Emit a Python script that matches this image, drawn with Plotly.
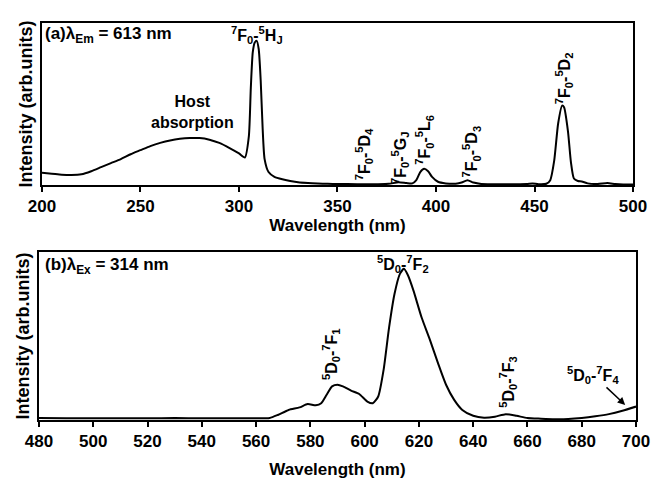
import plotly.graph_objects as go

# ---- Panel (a): excitation spectrum (lambda_Em = 613 nm)
exc_nm = [200, 205, 210, 215, 220, 225, 230, 235, 240, 245, 250, 255, 260, 265, 270, 275, 280,
          285, 290, 295, 300, 303, 305, 306, 307, 308, 309, 310, 311, 312, 313, 315, 318, 322,
          326, 330, 335, 340, 345, 350, 360, 370, 376, 381, 385, 388, 390, 392, 394, 396, 398,
          401, 405, 410, 413, 416, 419, 423, 430, 440, 446, 449, 452, 456, 458, 460, 462, 464,
          465, 467, 468.5, 470, 472, 474, 477, 482, 487, 491, 495, 500]
exc_int = [0.075, 0.07, 0.064, 0.062, 0.066, 0.085, 0.11, 0.135, 0.16, 0.19, 0.215, 0.24, 0.26,
           0.275, 0.285, 0.29, 0.29, 0.28, 0.26, 0.23, 0.195, 0.17, 0.30, 0.60, 0.82, 0.88, 0.89,
           0.84, 0.65, 0.35, 0.16, 0.08, 0.05, 0.035, 0.025, 0.017, 0.012, 0.009, 0.007, 0.006,
           0.005, 0.005, 0.007, 0.017, 0.012, 0.01, 0.03, 0.08, 0.10, 0.085, 0.05, 0.02, 0.01,
           0.008, 0.015, 0.03, 0.015, 0.006, 0.005, 0.005, 0.006, 0.01, 0.005, 0.008, 0.03, 0.15,
           0.38, 0.49, 0.48, 0.33, 0.14, 0.04, 0.025, 0.022, 0.01, 0.006, 0.012, 0.006, 0.003, 0.003]

# ---- Panel (b): emission spectrum (lambda_Ex = 314 nm)
em_nm = [480, 490, 500, 510, 520, 530, 540, 550, 560, 565, 568, 572, 576, 579, 582, 584, 586,
         588, 590, 592, 595, 598, 601, 603, 605, 607, 609, 611, 613, 614.5, 616, 618, 621, 624,
         627, 630, 633, 636, 640, 644, 648, 652, 656, 660, 665, 670, 675, 680, 685, 690, 695, 700]
em_int = [0.012, 0.01, 0.01, 0.011, 0.01, 0.012, 0.01, 0.01, 0.01, 0.012, 0.03, 0.06, 0.075,
          0.095, 0.088, 0.10, 0.15, 0.20, 0.21, 0.20, 0.175, 0.155, 0.11, 0.10, 0.14, 0.30, 0.55,
          0.75, 0.87, 0.90, 0.86, 0.77, 0.61, 0.48, 0.34, 0.21, 0.12, 0.06, 0.025, 0.014, 0.02,
          0.035, 0.025, 0.012, 0.008, 0.005, 0.006, 0.012, 0.022, 0.035, 0.055, 0.08]

exc_ticks = [200, 250, 300, 350, 400, 450, 500]
em_ticks = [480, 500, 520, 540, 560, 580, 600, 620, 640, 660, 680, 700]

FONT = "Liberation Sans, Arial, sans-serif"

fig = go.Figure()
fig.add_trace(go.Scatter(x=exc_nm, y=exc_int, mode="lines", line=dict(color="black", width=2, shape="spline", smoothing=0.6),
                         xaxis="x", yaxis="y", showlegend=False))
fig.add_trace(go.Scatter(x=em_nm, y=em_int, mode="lines", line=dict(color="black", width=2, shape="spline", smoothing=0.6),
                         xaxis="x2", yaxis="y2", showlegend=False))

axis_common = dict(showline=True, mirror=True, linecolor="black", linewidth=2, showgrid=False,
                   zeroline=False, automargin=False)
xt = dict(ticks="outside", ticklen=5, tickwidth=2, tickcolor="black",
          tickfont=dict(family=FONT, size=17, color="black"))
ytitle = dict(text="<b>Intensity (arb.units)</b>", font=dict(family=FONT, size=18, color="black"), standoff=3)

# page body has an 8px margin, so the figure is sized 655x472 to fill the 663x480 window
fig.update_layout(
    width=655, height=472,
    margin=dict(l=0, r=0, t=0, b=0),
    paper_bgcolor="white", plot_bgcolor="white",
    font=dict(family=FONT, color="black"),
    xaxis=dict(domain=[0.0519, 0.9542], anchor="y", range=[200, 500], tickvals=exc_ticks,
               ticktext=[f"<b>{t}</b>" for t in exc_ticks],
               title=dict(text="<b>Wavelength (nm)</b>", font=dict(family=FONT, size=17, color="black"), standoff=0),
               **axis_common, **xt),
    yaxis=dict(domain=[0.625, 0.968], anchor="x", range=[0, 1], showticklabels=False, ticks="",
               title=ytitle, **axis_common),
    xaxis2=dict(domain=[0.0473, 0.9588], anchor="y2", range=[480, 700], tickvals=em_ticks,
                ticktext=[f"<b>{t}</b>" for t in em_ticks],
                title=dict(text="<b>Wavelength (nm)</b>", font=dict(family=FONT, size=17, color="black"), standoff=13),
                **axis_common, **xt),
    yaxis2=dict(domain=[0.1271, 0.483], anchor="x2", range=[0, 1], showticklabels=False, ticks="",
                title=ytitle, **axis_common),
)

def ann(x, y, text, xr="x", yr="y", size=15, angle=0, xanchor="center", **kw):
    fig.add_annotation(x=x, y=y, xref=xr, yref=yr, text=text, showarrow=kw.pop("showarrow", False),
                       textangle=angle, xanchor=xanchor, yanchor="middle",
                       font=dict(family=FONT, size=size, color="black"), **kw)

# Panel (a) labels
ann(200.5, 0.926, "<b>(a)λ<sub>Em</sub> = 613 nm</b>", xanchor="left", size=17)
ann(309, 0.926, "<b><sup>7</sup>F<sub>0</sub>-<sup>5</sup>H<sub>J</sub></b>", size=16)
ann(276.6, 0.45, "<b>Host<br>absorption</b>", size=16)
ann(363.5, 0.19, "<b><sup>7</sup>F<sub>0</sub>-<sup>5</sup>D<sub>4</sub></b>", angle=-90, size=16)
ann(382, 0.17, "<b><sup>7</sup>F<sub>0</sub>-<sup>5</sup>G<sub>J</sub></b>", angle=-90, size=16)
ann(394, 0.28, "<b><sup>7</sup>F<sub>0</sub>-<sup>5</sup>L<sub>6</sub></b>", angle=-90, size=16)
ann(418, 0.21, "<b><sup>7</sup>F<sub>0</sub>-<sup>5</sup>D<sub>3</sub></b>", angle=-90, size=16)
ann(465, 0.66, "<b><sup>7</sup>F<sub>0</sub>-<sup>5</sup>D<sub>2</sub></b>", angle=-90, size=16)

# Panel (b) labels
ann(481.5, 0.917, "<b>(b)λ<sub>Ex</sub> = 314 nm</b>", xr="x2", yr="y2", xanchor="left", size=17)
ann(614, 0.93, "<b><sup>5</sup>D<sub>0</sub>-<sup>7</sup>F<sub>2</sub></b>", xr="x2", yr="y2", size=16)
ann(587.8, 0.39, "<b><sup>5</sup>D<sub>0</sub>-<sup>7</sup>F<sub>1</sub></b>", xr="x2", yr="y2", angle=-90, size=16)
ann(653, 0.23, "<b><sup>5</sup>D<sub>0</sub>-<sup>7</sup>F<sub>3</sub></b>", xr="x2", yr="y2", angle=-90, size=16)
fig.add_annotation(x=696, y=0.09, xref="x2", yref="y2", ax=-32, ay=-30,
                   text="<b><sup>5</sup>D<sub>0</sub>-<sup>7</sup>F<sub>4</sub></b>", showarrow=True,
                   arrowhead=2, arrowsize=1, arrowwidth=1.5, arrowcolor="black",
                   font=dict(family=FONT, size=16, color="black"))

fig.write_html("out.html")
